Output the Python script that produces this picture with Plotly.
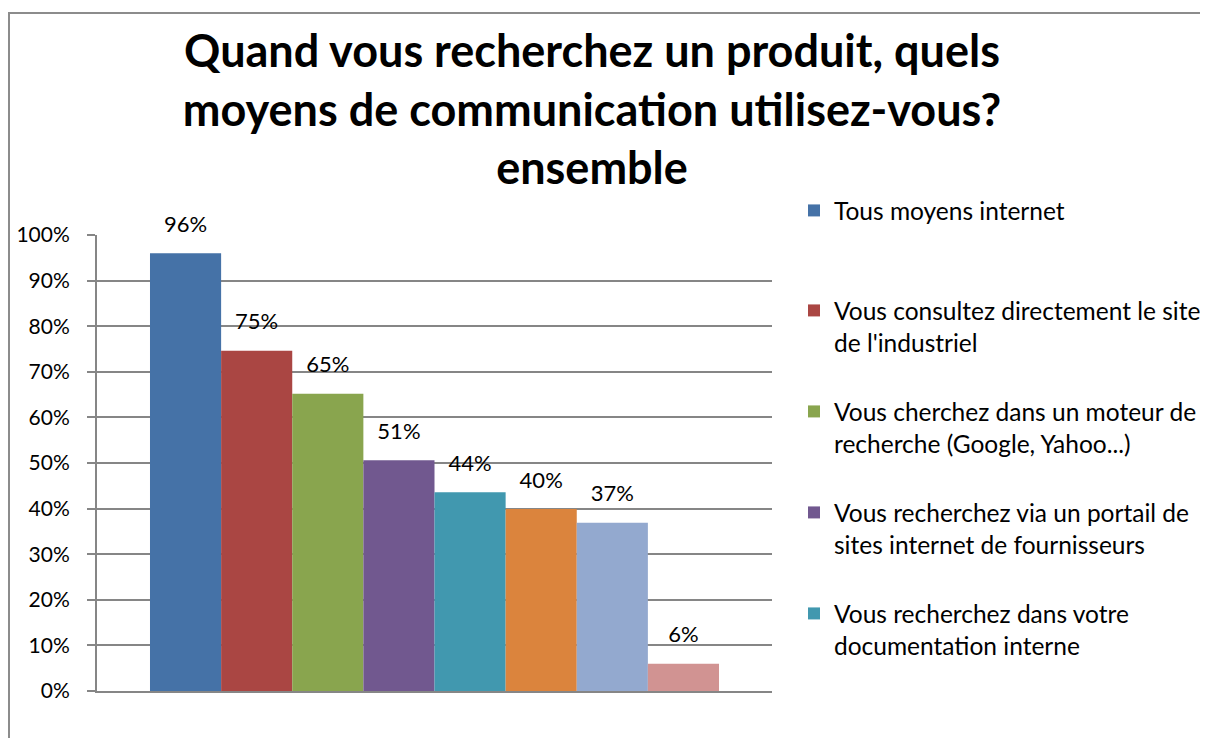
import plotly.graph_objects as go

category = ["ensemble"]
series_names = [
    "Tous moyens internet",
    "Vous consultez directement le site<br>de l'industriel",
    "Vous cherchez dans un moteur de<br>recherche (Google, Yahoo...)",
    "Vous recherchez via un portail de<br>sites internet de fournisseurs",
    "Vous recherchez dans votre<br>documentation interne",
    "Série 6",
    "Série 7",
    "Série 8",
]
series_values = [0.96, 0.746, 0.652, 0.506, 0.436, 0.399, 0.369, 0.06]
series_colors = ["#4572A7", "#AA4643", "#89A54E", "#71588F",
                 "#4198AF", "#DB843D", "#93A9CF", "#D19392"]
legend_visible = [True, True, True, True, True, False, False, False]
ytick_vals = [0, 0.1, 0.2, 0.3, 0.4, 0.5, 0.6, 0.7, 0.8, 0.9, 1.0]
ytick_text = ["0%", "10%", "20%", "30%", "40%", "50%", "60%", "70%", "80%", "90%", "100%"]

FONT = "Lato"
W, H = 1200, 730
L, R, T, B = 89, 436, 227, 47
PW, PH = W - L - R, H - T - B

legend_ids = ["legend", "legend2", "legend3", "legend4", "legend5"]
legend_text_centers = [210, 310, 411, 512, 613]  # screen px of first text line

fig = go.Figure()
for i, (name, val, col, show) in enumerate(zip(series_names, series_values, series_colors, legend_visible)):
    kw = {}
    if show:
        kw["legend"] = legend_ids[i]
    fig.add_trace(go.Bar(
        x=category, y=[val], name=name, marker=dict(color=col, line=dict(width=0)),
        showlegend=show, **kw,
    ))
for i, val in enumerate(series_values):
    fig.add_trace(go.Scatter(
        x=category, y=[val], mode="markers+text", text=[f"{val:.0%}"],
        textposition="top center", marker=dict(size=24, opacity=0),
        textfont=dict(family=FONT, size=22, color="black"),
        cliponaxis=False, showlegend=False, hoverinfo="skip",
    ))

layout_legends = {}
for lid, yc in zip(legend_ids, legend_text_centers):
    top_fig = (yc - 8) - 22
    layout_legends[lid] = dict(
        x=(786 - L) / PW, xanchor="left", y=(T + PH - top_fig) / PH, yanchor="top",
        font=dict(family=FONT, size=24.5, color="black"), valign="top",
        bgcolor="rgba(0,0,0,0)",
    )

fig.update_layout(
    width=W, height=H,
    margin=dict(l=L, r=R, t=T, b=B, autoexpand=False),
    paper_bgcolor="white", plot_bgcolor="white",
    barmode="group", bargap=0.157, bargroupgap=0,
    scattermode="group", scattergap=0.157,
    title=dict(
        text="<b>Quand vous recherchez un produit, quels<br>moyens de communication utilisez-vous?<br>ensemble</b>",
        x=584 / W, xanchor="center", y=1 - 59 / H, yanchor="middle",
        font=dict(family=FONT, size=45, color="black"),
    ),
    font=dict(family=FONT, color="black"),
    xaxis=dict(showticklabels=False, showline=True, linecolor="#868686", linewidth=2,
               showgrid=False, ticks=""),
    yaxis=dict(range=[0, 1], tickvals=ytick_vals, ticktext=ytick_text,
               showgrid=True, gridcolor="#868686", gridwidth=1.5,
               showline=True, linecolor="#868686", linewidth=2,
               ticks="outside", ticklen=8, tickcolor="#868686", tickwidth=1.5,
               ticklabelstandoff=13,
               tickfont=dict(family=FONT, size=21, color="black"), zeroline=False),
    shapes=[dict(type="rect", xref="paper", yref="paper",
                 x0=(1 - L) / PW, x1=(W + 30 - L) / PW,
                 y0=(T + PH - (H + 30)) / PH, y1=(T + PH - 5) / PH,
                 line=dict(color="#8C8C8C", width=2), fillcolor="rgba(0,0,0,0)", layer="below")],
    **layout_legends,
)

fig.write_html("out.html")
